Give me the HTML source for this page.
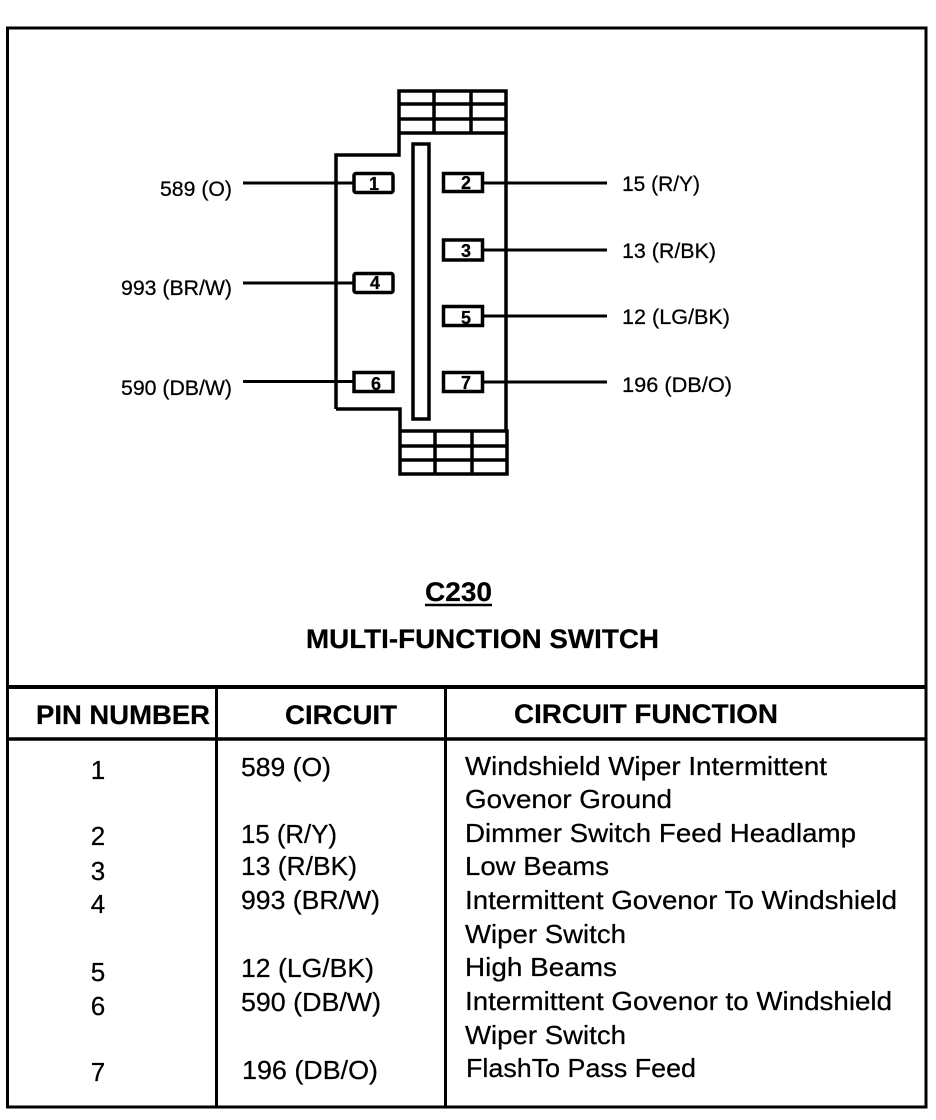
<!DOCTYPE html>
<html><head><meta charset="utf-8"><style>
html,body{margin:0;padding:0;background:#fff}
svg{display:block}
text{font-family:"Liberation Sans",sans-serif;fill:#000;stroke:#000;stroke-width:.25px}
.l{font-size:21px}
.t{font-size:26px}
.b{font-size:27px;font-weight:bold}
.p{font-size:18px;font-weight:bold}
</style></head><body>
<svg width="936" height="1120" viewBox="0 0 936 1120" xmlns="http://www.w3.org/2000/svg">
<rect width="936" height="1120" fill="#fff"/>
<g fill="none" stroke="#000">
<rect x="7.500" y="28" width="918.500" height="1079" stroke-width="3"/>
<path d="M8 687H926" stroke-width="4"/>
<path d="M8 739H926" stroke-width="3.500"/>
<path d="M216.500 687V1106M445.500 687V1106" stroke-width="3"/>
<g stroke-width="3.500">
<path d="M336 409V155H399V91H506V133H399M399 104H506M399 119H506M434 91V133M471 91V133"/>
<path d="M506 133V431"/>
<path d="M336 409H400V474H507V431H400M400 446H507M400 460H507M435 431V474M472 431V474"/>
<rect x="413" y="144" width="16" height="275"/>
<rect x="354" y="173.500" width="39" height="19" rx="2"/>
<rect x="443.500" y="173.500" width="39" height="18"/>
<rect x="443.500" y="240" width="39" height="20"/>
<rect x="354" y="273.500" width="39" height="19" rx="2"/>
<rect x="443.500" y="306.500" width="39" height="19"/>
<rect x="354" y="372.500" width="39" height="19"/>
<rect x="443.500" y="372.500" width="39" height="19"/>
</g>
<g stroke-width="3">
<path d="M243 183H353M243 283H353M243 381.500H353"/>
<path d="M484 183H607M484 250H607M484 316H607M484 382H607"/>
</g>
</g>
<text class="p" x="374" y="190" text-anchor="middle">1</text>
<text class="p" x="466" y="189" text-anchor="middle">2</text>
<text class="p" x="466" y="257" text-anchor="middle">3</text>
<text class="p" x="375" y="289" text-anchor="middle">4</text>
<text class="p" x="466" y="324" text-anchor="middle">5</text>
<text class="p" x="376" y="390" text-anchor="middle">6</text>
<text class="p" x="466" y="389" text-anchor="middle">7</text>

<text class="l" x="160" y="196" textLength="72" lengthAdjust="spacingAndGlyphs">589 (O)</text>
<text class="l" x="121" y="295" textLength="111" lengthAdjust="spacingAndGlyphs">993 (BR/W)</text>
<text class="l" x="121" y="395" textLength="111" lengthAdjust="spacingAndGlyphs">590 (DB/W)</text>
<text class="l" x="622" y="191" textLength="78" lengthAdjust="spacingAndGlyphs">15 (R/Y)</text>
<text class="l" x="622" y="258" textLength="94" lengthAdjust="spacingAndGlyphs">13 (R/BK)</text>
<text class="l" x="622" y="324" textLength="108" lengthAdjust="spacingAndGlyphs">12 (LG/BK)</text>
<text class="l" x="622" y="392" textLength="110" lengthAdjust="spacingAndGlyphs">196 (DB/O)</text>

<text class="b" x="425" y="601" textLength="67" lengthAdjust="spacingAndGlyphs">C230</text>
<path d="M425 605H492" stroke="#000" stroke-width="2.500"/>
<text class="b" x="306" y="648" textLength="353" lengthAdjust="spacingAndGlyphs">MULTI-FUNCTION SWITCH</text>

<text class="b" x="36" y="724" textLength="174" lengthAdjust="spacingAndGlyphs">PIN NUMBER</text>
<text class="b" x="285" y="724" textLength="112" lengthAdjust="spacingAndGlyphs">CIRCUIT</text>
<text class="b" x="514" y="723" textLength="264" lengthAdjust="spacingAndGlyphs">CIRCUIT FUNCTION</text>

<text class="t" x="98" y="779" text-anchor="middle">1</text>
<text class="t" x="98" y="845" text-anchor="middle">2</text>
<text class="t" x="98" y="880" text-anchor="middle">3</text>
<text class="t" x="98" y="913" text-anchor="middle">4</text>
<text class="t" x="98" y="981" text-anchor="middle">5</text>
<text class="t" x="98" y="1015" text-anchor="middle">6</text>
<text class="t" x="98" y="1081" text-anchor="middle">7</text>

<text class="t" x="241" y="776" textLength="90" lengthAdjust="spacingAndGlyphs">589 (O)</text>
<text class="t" x="241" y="843" textLength="96" lengthAdjust="spacingAndGlyphs">15 (R/Y)</text>
<text class="t" x="241" y="875" textLength="116" lengthAdjust="spacingAndGlyphs">13 (R/BK)</text>
<text class="t" x="241" y="909" textLength="139" lengthAdjust="spacingAndGlyphs">993 (BR/W)</text>
<text class="t" x="241" y="977" textLength="133" lengthAdjust="spacingAndGlyphs">12 (LG/BK)</text>
<text class="t" x="241" y="1011" textLength="140" lengthAdjust="spacingAndGlyphs">590 (DB/W)</text>
<text class="t" x="242" y="1079" textLength="136" lengthAdjust="spacingAndGlyphs">196 (DB/O)</text>

<text class="t" x="465" y="775" textLength="362" lengthAdjust="spacingAndGlyphs">Windshield Wiper Intermittent</text>
<text class="t" x="465" y="808" textLength="207" lengthAdjust="spacingAndGlyphs">Govenor Ground</text>
<text class="t" x="465" y="842" textLength="391" lengthAdjust="spacingAndGlyphs">Dimmer Switch Feed Headlamp</text>
<text class="t" x="465" y="875" textLength="144" lengthAdjust="spacingAndGlyphs">Low Beams</text>
<text class="t" x="465" y="909" textLength="432" lengthAdjust="spacingAndGlyphs">Intermittent Govenor To Windshield</text>
<text class="t" x="465" y="943" textLength="161" lengthAdjust="spacingAndGlyphs">Wiper Switch</text>
<text class="t" x="465" y="976" textLength="152" lengthAdjust="spacingAndGlyphs">High Beams</text>
<text class="t" x="465" y="1010" textLength="427" lengthAdjust="spacingAndGlyphs">Intermittent Govenor to Windshield</text>
<text class="t" x="465" y="1044" textLength="161" lengthAdjust="spacingAndGlyphs">Wiper Switch</text>
<text class="t" x="466" y="1077" textLength="230" lengthAdjust="spacingAndGlyphs">FlashTo Pass Feed</text>
</svg>
</body></html>
